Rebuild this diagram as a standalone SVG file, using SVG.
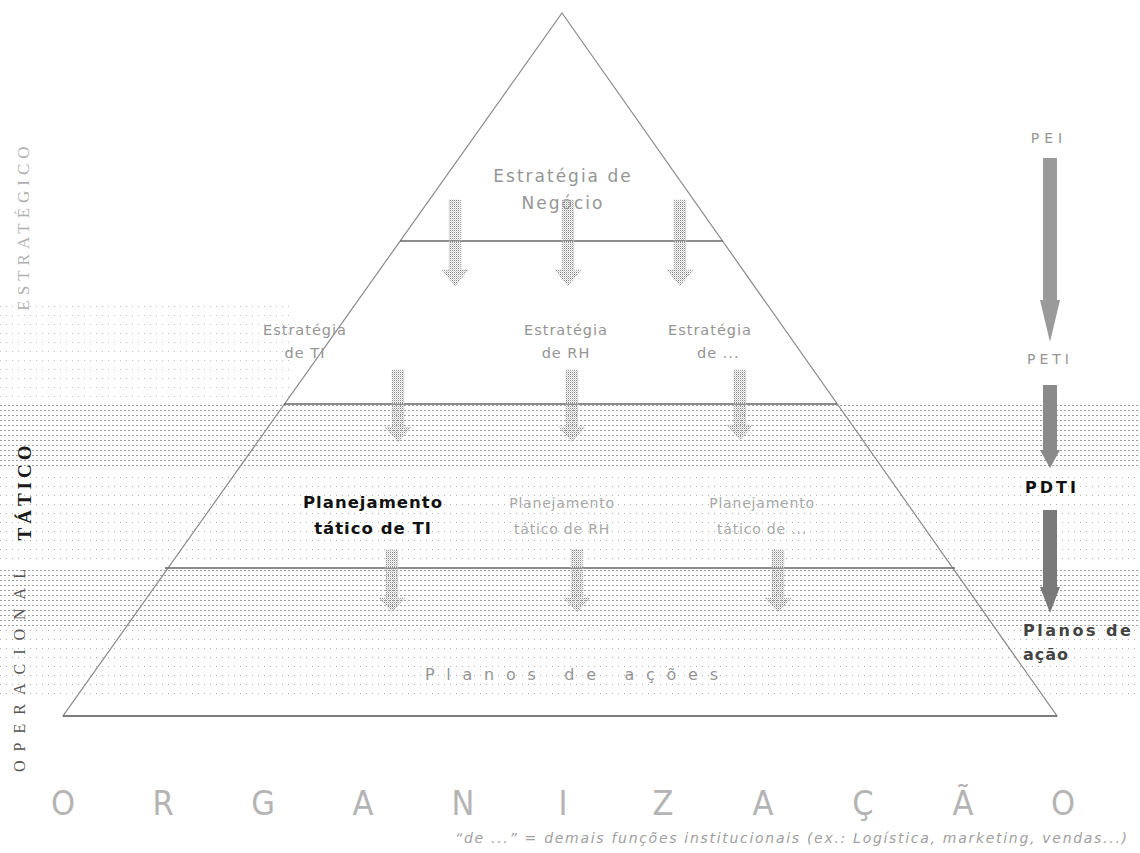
<svg xmlns="http://www.w3.org/2000/svg" width="1140" height="853" viewBox="0 0 1140 853">
<defs>
<pattern id="hatchDense" width="4" height="5" patternUnits="userSpaceOnUse"><rect x="0" y="0" width="2" height="1" fill="#a0a0a0"/></pattern>
<pattern id="hatchSparse" width="6" height="9" patternUnits="userSpaceOnUse"><rect x="0" y="0" width="1" height="1" fill="#b0b0b0"/></pattern>
<pattern id="dots" width="2" height="2" patternUnits="userSpaceOnUse"><rect x="0" y="0" width="1" height="1" fill="#8a8a8a"/><rect x="1" y="1" width="1" height="1" fill="#d0d0d0"/></pattern>
<style>
.g{font-family:"DejaVu Sans",Verdana,sans-serif;fill:#959595}
.gl{font-family:"DejaVu Sans",Verdana,sans-serif;fill:#a8a8a8}
.bk{font-family:"DejaVu Sans",Verdana,sans-serif;font-weight:bold;fill:#111}
.side{font-family:"Liberation Serif","Times New Roman",serif}
.edge{fill:none;stroke:#8a8a8a;stroke-width:1.2}
.lvl{stroke:#666;stroke-width:1.4}
.parr{fill:url(#dots);stroke:#c8c8c8;stroke-width:0.8;stroke-dasharray:1 1}
.rarr{stroke:none}
</style>
</defs>
<rect width="1140" height="853" fill="#ffffff"/>

<g id="bands">
<rect x="0" y="300" width="290" height="104" fill="url(#hatchSparse)" opacity="0.8"/>
<rect x="0" y="404" width="1140" height="66" fill="url(#hatchDense)"/>
<rect x="0" y="470" width="1140" height="96" fill="url(#hatchSparse)"/>
<rect x="0" y="566" width="1140" height="62" fill="url(#hatchDense)"/>
<rect x="0" y="628" width="1140" height="72" fill="url(#hatchSparse)"/>
</g>

<g id="pyramid">
<polygon class="edge" points="562,13 1057,716 63,716"/>
<line class="lvl" x1="400" y1="241" x2="723" y2="241"/>
<line class="lvl" x1="284" y1="404" x2="837" y2="404"/>
<line class="lvl" x1="165" y1="568" x2="955" y2="568"/>
<line class="lvl" x1="63" y1="716" x2="1057" y2="716"/>
</g>

<g id="level-negocio">
<text class="g" x="563" y="182" font-size="17" letter-spacing="2" text-anchor="middle">Estratégia de</text>
<text class="g" x="563" y="209" font-size="17" letter-spacing="2" text-anchor="middle">Negócio</text>
</g>

<g id="estrategia-ti">
<text class="g" x="305" y="335" font-size="14.5" letter-spacing="1" text-anchor="middle">Estratégia</text>
<text class="g" x="305" y="358" font-size="14.5" letter-spacing="1" text-anchor="middle">de TI</text>
</g>
<g id="estrategia-rh">
<text class="g" x="566" y="335" font-size="14.5" letter-spacing="1" text-anchor="middle">Estratégia</text>
<text class="g" x="566" y="358" font-size="14.5" letter-spacing="1" text-anchor="middle">de RH</text>
</g>
<g id="estrategia-outros">
<text class="g" x="710" y="335" font-size="14.5" letter-spacing="1" text-anchor="middle">Estratégia</text>
<text class="g" x="697" y="358" font-size="14.5" letter-spacing="1">de ...</text>
</g>

<g id="planejamento-ti">
<text class="bk" x="373" y="508" font-size="16.5" letter-spacing="1" text-anchor="middle">Planejamento</text>
<text class="bk" x="373" y="534" font-size="16.5" letter-spacing="1" text-anchor="middle">tático de TI</text>
</g>
<g id="planejamento-rh">
<text class="gl" x="562" y="508" font-size="14" letter-spacing="0.8" text-anchor="middle">Planejamento</text>
<text class="gl" x="562" y="534" font-size="14" letter-spacing="0.8" text-anchor="middle">tático de RH</text>
</g>
<g id="planejamento-outros">
<text class="gl" x="762" y="508" font-size="14" letter-spacing="0.8" text-anchor="middle">Planejamento</text>
<text class="gl" x="762" y="534" font-size="14" letter-spacing="0.8" text-anchor="middle">tático de ...</text>
</g>

<g id="planos-acoes">
<text class="g" x="425" y="680" font-size="16" textLength="293" lengthAdjust="spacing">Planos de ações</text>
</g>

<g id="side-labels">
<text class="side" transform="translate(29,226) rotate(-90)" font-size="17" fill="#b0b0b0" text-anchor="middle" letter-spacing="5">ESTRATÉGICO</text>
<text class="side" transform="translate(31,491) rotate(-90)" font-size="19" font-weight="bold" fill="#1a1a1a" text-anchor="middle" letter-spacing="4">TÁTICO</text>
<text class="side" transform="translate(25,666) rotate(-90)" font-size="16" fill="#555" text-anchor="middle" letter-spacing="9">OPERACIONAL</text>
</g>

<g id="right-labels">
<text class="g" x="1049" y="143" font-size="14" letter-spacing="5" text-anchor="middle">PEI</text>
<text class="g" x="1050" y="364" font-size="14" letter-spacing="4" text-anchor="middle">PETI</text>
<text class="bk" x="1052" y="493" font-size="16" letter-spacing="3" text-anchor="middle">PDTI</text>
<text x="1023" y="636" font-family="DejaVu Sans,Verdana,sans-serif" font-weight="bold" font-size="16" fill="#444" letter-spacing="2.5">Planos de</text>
<text x="1023" y="660" font-family="DejaVu Sans,Verdana,sans-serif" font-weight="bold" font-size="16" fill="#444" letter-spacing="1">ação</text>
</g>

<g id="connectors">
<polygon class="parr" points="449,200 461,200 461,270 468,270 455,286 442,270 449,270"/>
<polygon class="parr" points="562,200 574,200 574,270 581,270 568,286 555,270 562,270"/>
<polygon class="parr" points="674,200 686,200 686,270 693,270 680,286 667,270 674,270"/>
<polygon class="parr" points="392,370 404,370 404,427 411,427 398,442 385,427 392,427"/>
<polygon class="parr" points="566,370 578,370 578,427 585,427 572,442 559,427 566,427"/>
<polygon class="parr" points="734,370 746,370 746,425 753,425 740,440 727,425 734,425"/>
<polygon class="parr" points="386,550 398,550 398,598 405,598 392,612 379,598 386,598"/>
<polygon class="parr" points="571,550 583,550 583,598 590,598 577,612 564,598 571,598"/>
<polygon class="parr" points="772,550 784,550 784,598 791,598 778,612 765,598 772,598"/>
<polygon class="rarr" fill="#9a9a9a" points="1043,158 1057,158 1057,300 1060,300 1050,342 1040,300 1043,300"/>
<polygon class="rarr" fill="#8a8a8a" points="1043,385 1057,385 1057,450 1060,450 1050,468 1040,450 1043,450"/>
<polygon class="rarr" fill="#7a7a7a" points="1043,510 1057,510 1057,587 1060,587 1050,613 1040,587 1043,587"/>
</g>

<g id="organizacao">
<text x="63 163 263 363 463 563 663 763 863 963 1063" y="815" font-family="Liberation Sans Narrow,DejaVu Sans Condensed,sans-serif" font-size="34" fill="#b4b4b4" text-anchor="middle">ORGANIZAÇÃO</text>
<text x="455" y="843" font-family="DejaVu Sans,Verdana,sans-serif" font-style="italic" font-size="14" fill="#a0a0a0" textLength="672" lengthAdjust="spacing">“de ...” = demais funções institucionais (ex.: Logística, marketing, vendas...)</text>
</g>
</svg>
